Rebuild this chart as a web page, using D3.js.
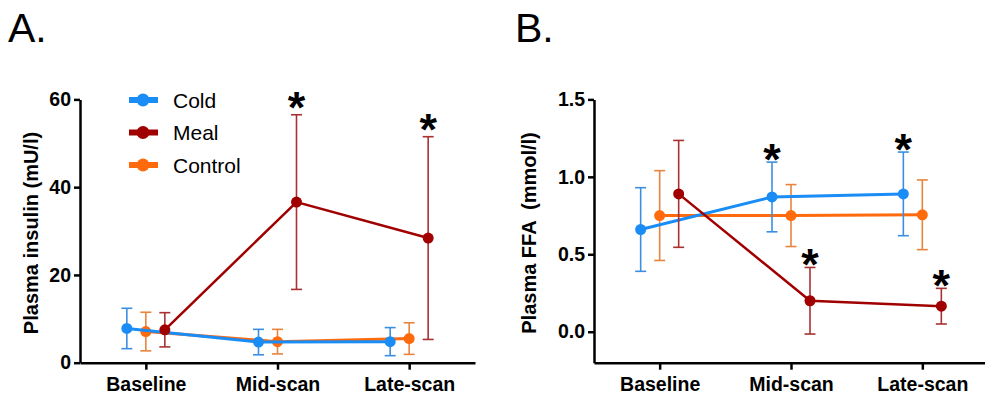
<!DOCTYPE html>
<html>
<head>
<meta charset="utf-8">
<script src="https://cdn.jsdelivr.net/npm/d3@7"></script>
<style>
  body { margin: 0; background: #fff; }
  svg { font-family: "Liberation Sans", Arial, sans-serif; }
  .axis path, .axis line { stroke: #000; stroke-width: 2.5px; }
  .axis text { font-size: 19.5px; font-weight: bold; fill: #000; }
</style>
</head>
<body>
<div class="chart"></div>
<script>
// categories and series
var categories = ["Baseline", "Mid-scan", "Late-scan"];
var seriesNames = ["Cold", "Meal", "Control"];

// A. plasma insulin (mU/l), mean and SD
var insulinCold = [7.8, 4.7, 4.8];
var insulinColdSd = [4.6, 2.9, 3.2];
var insulinMeal = [7.5, 36.6, 28.4];
var insulinMealSd = [3.9, 19.9, 23.1];
var insulinControl = [7.1, 4.8, 5.5];
var insulinControlSd = [4.4, 2.8, 3.6];
var insulinTicks = [0, 20, 40, 60];
var insulinStars = [["Meal", 1], ["Meal", 2]];

// B. plasma FFA (mmol/l), mean and SD
var ffaCold = [0.66, 0.87, 0.89];
var ffaColdSd = [0.27, 0.225, 0.27];
var ffaMeal = [0.89, 0.20, 0.165];
var ffaMealSd = [0.345, 0.215, 0.115];
var ffaControl = [0.75, 0.75, 0.755];
var ffaControlSd = [0.29, 0.2, 0.225];
var ffaTicks = [0, 0.5, 1.0, 1.5];
var ffaStars = [["Cold", 1], ["Cold", 2], ["Meal", 1], ["Meal", 2]];

var colors = { Cold: "#1a8cf5", Meal: "#a00000", Control: "#ff6a0d" };
var errColors = { Cold: "#3c8fe0", Meal: "#a83232", Control: "#e8843e" };
var offsets = { Cold: -19, Meal: 19, Control: 0 };
var drawOrder = ["Control", "Cold", "Meal"];

var svg = d3.select(".chart").append("svg")
    .attr("width", 985)
    .attr("height", 394);

function drawPanel(opt) {
    var x = d3.scalePoint().domain(categories).range(opt.xRange).padding(0.5);
    var y = d3.scaleLinear().domain(opt.yDomain).range([362.7, 99.4]);
    var g = svg.append("g");

    // panel label
    g.append("text")
        .attr("x", opt.labelX)
        .attr("y", 42)
        .attr("font-size", 41)
        .text(opt.label);

    // axes
    g.append("g")
        .attr("class", "axis")
        .attr("transform", "translate(" + opt.xRange[0] + ",0)")
        .call(d3.axisLeft(y).tickValues(opt.ticks).tickSize(6).tickSizeOuter(0)
            .tickPadding(3).tickFormat(opt.format));

    g.append("g")
        .attr("class", "axis")
        .attr("transform", "translate(0,362.7)")
        .call(d3.axisBottom(x).tickSize(7).tickSizeOuter(0).tickPadding(7));

    g.append("text")
        .attr("transform", "translate(" + opt.titleX + ",233) rotate(-90)")
        .attr("text-anchor", "middle")
        .attr("font-size", 20)
        .attr("font-weight", "bold")
        .attr("xml:space", "preserve")
        .style("white-space", "pre")
        .text(opt.title);

    var line = d3.line()
        .x(function(d) { return d.x; })
        .y(function(d) { return y(d.v); });

    drawOrder.forEach(function(name) {
        var pts = opt.data[name].map(function(v, i) {
            return { x: x(categories[i]) + offsets[name], v: v, sd: opt.sd[name][i] };
        });
        var s = g.append("g");
        // error bars
        var eb = s.selectAll(".err").data(pts).enter().append("g")
            .attr("stroke", errColors[name])
            .attr("stroke-width", 1.6);
        eb.append("line")
            .attr("x1", function(d) { return d.x; })
            .attr("x2", function(d) { return d.x; })
            .attr("y1", function(d) { return y(d.v + d.sd); })
            .attr("y2", function(d) { return y(d.v - d.sd); });
        [1, -1].forEach(function(sign) {
            eb.append("line")
                .attr("x1", function(d) { return d.x - 5.5; })
                .attr("x2", function(d) { return d.x + 5.5; })
                .attr("y1", function(d) { return y(d.v + sign * d.sd); })
                .attr("y2", function(d) { return y(d.v + sign * d.sd); });
        });
        s.append("path")
            .datum(pts)
            .attr("fill", "none")
            .attr("stroke", colors[name])
            .attr("stroke-width", name === "Meal" ? 2.5 : 3)
            .attr("d", line);
        s.selectAll("circle").data(pts).enter().append("circle")
            .attr("cx", function(d) { return d.x; })
            .attr("cy", function(d) { return y(d.v); })
            .attr("r", 5.5)
            .attr("fill", colors[name]);
    });

    // significance stars
    opt.stars.forEach(function(st) {
        var name = st[0], i = st[1];
        var top = y(opt.data[name][i] + opt.sd[name][i]);
        g.append("text")
            .attr("x", x(categories[i]) + offsets[name])
            .attr("y", top - opt.starGap + 19)
            .attr("text-anchor", "middle")
            .attr("font-size", 45)
            .attr("font-weight", "bold")
            .text("*");
    });
}

drawPanel({
    label: "A.", labelX: 8, xRange: [80, 475], yDomain: [0, 60],
    ticks: insulinTicks, format: d3.format("d"),
    title: "Plasma insulin (mU/l)", titleX: 38,
    data: { Cold: insulinCold, Meal: insulinMeal, Control: insulinControl },
    sd: { Cold: insulinColdSd, Meal: insulinMealSd, Control: insulinControlSd },
    stars: insulinStars, starGap: 11
});

drawPanel({
    label: "B.", labelX: 515, xRange: [594, 988], yDomain: [-0.2, 1.5],
    ticks: ffaTicks, format: d3.format(".1f"),
    title: "Plasma FFA  (mmol/l)", titleX: 536,
    data: { Cold: ffaCold, Meal: ffaMeal, Control: ffaControl },
    sd: { Cold: ffaColdSd, Meal: ffaMealSd, Control: ffaControlSd },
    stars: ffaStars, starGap: 6
});

// legend (panel A)
var legend = svg.append("g");
seriesNames.forEach(function(name, i) {
    var ly = 100 + i * 32.5;
    legend.append("line")
        .attr("x1", 129).attr("x2", 158)
        .attr("y1", ly).attr("y2", ly)
        .attr("stroke", colors[name])
        .attr("stroke-width", 6);
    legend.append("circle")
        .attr("cx", 143).attr("cy", ly).attr("r", 6.5)
        .attr("fill", colors[name]);
    legend.append("text")
        .attr("x", 173).attr("y", ly)
        .attr("dy", "0.36em")
        .attr("font-size", 21)
        .text(name);
});
</script>
</body>
</html>
